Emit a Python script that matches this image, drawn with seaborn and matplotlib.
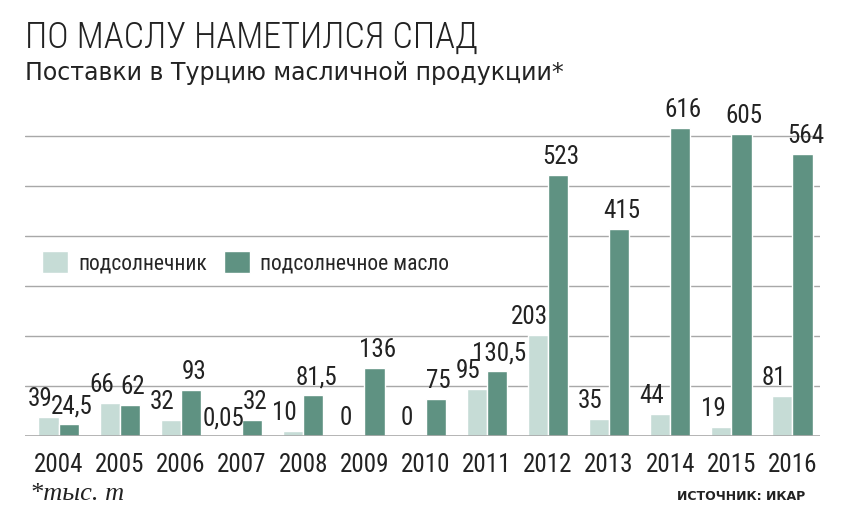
import pandas as pd
import seaborn as sns
import matplotlib.pyplot as plt
from matplotlib import font_manager as fm

years = ['2004', '2005', '2006', '2007', '2008', '2009', '2010',
         '2011', '2012', '2013', '2014', '2015', '2016']
seeds = [39, 66, 32, 0.05, 10, 0, 0, 95, 203, 35, 44, 19, 81]
oil = [24.5, 62, 93, 32, 81.5, 136, 75, 130.5, 523, 415, 616, 605, 564]
series_names = ['подсолнечник', 'подсолнечное масло']
colors = ['#c6dcd6', '#5f9282']


def fmt(v):
    # russian style decimal comma
    return f'{v:g}'.replace('.', ',')


df = pd.DataFrame({
    'year': years * 2,
    'value': seeds + oil,
    'series': [series_names[0]] * len(years) + [series_names[1]] * len(years),
})

sns.set_style('white')

# pick the narrowest sans that is actually installed
names = {f.name for f in fm.fontManager.ttflist}
narrow = next((n for n in ['Roboto Condensed', 'Liberation Sans Narrow',
                           'Open Sans Condensed', 'Noto Sans Condensed']
               if n in names), None)
if narrow:
    plt.rcParams['font.family'] = [narrow, 'DejaVu Sans']
    lab, yr, leg, title_size = 18, 18, 15.5, 26
else:
    plt.rcParams['font.family'] = ['Roboto', 'DejaVu Sans']
    lab, yr, leg, title_size = 15, 15, 14, 22

fig = plt.figure(figsize=(8.41, 5.17), dpi=100)
ax = fig.add_axes([25 / 841, 1 - 436 / 517, 795 / 841, 336 / 517])

sns.barplot(data=df, x='year', y='value', hue='series', palette=colors,
            width=0.66, ax=ax, saturation=1, zorder=3)

# light labels sit a bit to the left, like the original
for cont, vals, dx in zip(ax.containers, [seeds, oil], [-6, 2]):
    for bar, v in zip(cont, vals):
        ax.annotate(fmt(v), (bar.get_x() + bar.get_width() / 2, bar.get_height()),
                    xytext=(dx, 4), textcoords='offset points',
                    ha='center', va='bottom', fontsize=lab, color='#222222')

ax.set_ylim(0, 672)
ax.set_xlim(-0.55, 12.45)
ax.set_yticks([100, 200, 300, 400, 500, 600])
ax.yaxis.grid(True, color='#a8a8a8', linewidth=1, zorder=0)
ax.axhline(0, color='#a8a8a8', linewidth=1.2, zorder=4)
ax.tick_params(axis='y', left=False, labelleft=False)
ax.tick_params(axis='x', bottom=False, labelsize=yr, pad=9, labelcolor='#222222')
ax.set_xlabel('')
ax.set_ylabel('')
for sp in ax.spines.values():
    sp.set_visible(False)

ax.legend(title=None, loc='center left', bbox_to_anchor=(0.022, 0.515),
          frameon=False, fontsize=leg, handlelength=1.2, handleheight=1.2,
          ncol=2, columnspacing=0.8, handletextpad=0.45, borderaxespad=0,
          borderpad=0)

fig.text(25 / 841, 1 - 48 / 517, 'ПО МАСЛУ НАМЕТИЛСЯ СПАД', fontsize=title_size,
         fontweight='light', color='#222222', va='baseline')
fig.text(25 / 841, 1 - 80 / 517, 'Поставки в Турцию масличной продукции*',
         fontsize=17, color='#222222', va='baseline', family='DejaVu Sans')
fig.text(30 / 841, 1 - 500 / 517, '*тыс. т', fontsize=19, style='italic',
         family='Liberation Serif', color='#222222', va='baseline')
fig.text(805 / 841, 1 - 500 / 517, 'ИСТОЧНИК: ИКАР', fontsize=9,
         fontweight='bold', color='#222222', ha='right', va='baseline',
         family='DejaVu Sans')

fig.savefig('out.png', dpi=100)
